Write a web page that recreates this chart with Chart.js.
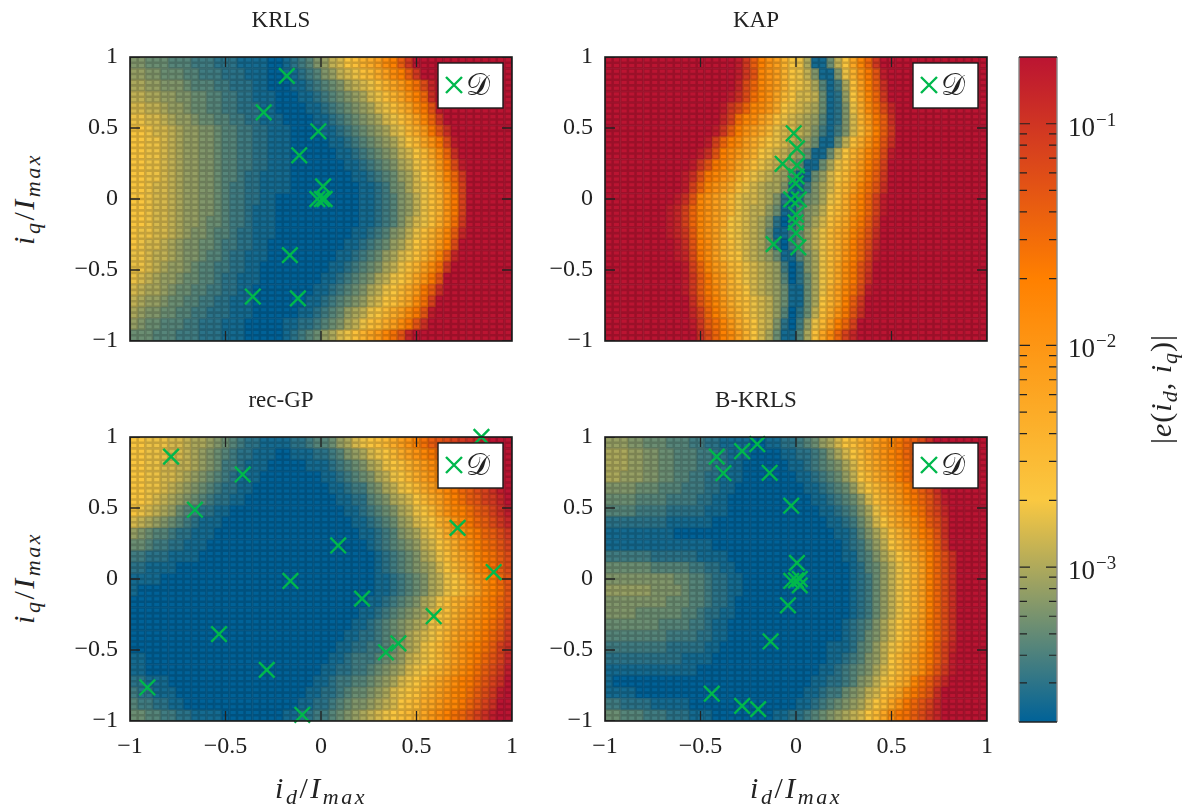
<!DOCTYPE html>
<html>
<head>
<meta charset="utf-8">
<script src="https://cdn.jsdelivr.net/npm/chart.js@4"></script>
<style>
html,body{margin:0;padding:0;background:#fff;width:1190px;height:805px;overflow:hidden}
canvas{position:absolute}
.lab{position:absolute;font:italic 30px "Liberation Serif";color:#222;white-space:nowrap;letter-spacing:2.5px;transform:translate(-50%,-50%)}
.rot{transform:translate(-50%,-50%) rotate(-90deg)}
.lab sub{font-size:22px;line-height:0;vertical-align:-6px}
.lab span{font-style:normal}
.lab.tight{letter-spacing:1px}
</style>
</head>
<body>
<script>
// error level per cell, base 36 digit, 0 = 2e-4 ... z = 2e-1 (log), rows top to bottom
const krlsRows = [
"6655544433 3222111100 1234679acd fgilnrvzzz zzzzzzzzzz",
"7766555443 3322211100 11234679ab degilnrvzz zzzzzzzzzz",
"8877666544 4332221100 0112345689 abdfhjmptx zzzzzzzzzz",
"9988776655 4433221110 0011234567 8abdfhknqw zzzzzzzzzz",
"aa99877655 4433222110 0001123456 78abdfhlos yzzzzzzzzz",
"bbaa987765 5443322111 0000112345 678abdfimq vzzzzzzzzz",
"ccbaa98776 6544332211 1000011234 5678abegjo swzzzzzzzz",
"ccbba98776 6544332211 1000001123 45678acehk otyzzzzzzz",
"ccbba98776 6544332211 1000000112 345679aceh lqwzzzzzzz",
"ccbba98776 6544332211 1000000011 2345689bdf jotyzzzzzz",
"ccbba98776 6544322111 1000000001 1234578ace hmqvzzzzzz",
"ccbaa98776 6543322111 1000000000 1123568abd gkpuzzzzzz",
"ccbaa98776 6543322110 0000000000 11234679bd fkouzzzzzz",
"ccbaa98776 6543321110 0000000000 11234679bd fkouzzzzzz",
"ccbaa98776 5543321110 0000000000 1123468abd gkpvzzzzzz",
"cbbaa98766 5443221110 0000000001 1234679bdf imrxzzzzzz",
"cbaa987665 5433221100 0000000011 234578aceg jntzzzzzzz",
"bba9987665 4432211100 0000000112 34578abdfi mrxzzzzzzz",
"bba9877654 4332211000 0000001123 45689bdfil pvzzzzzzzz",
"ba98776554 4322111000 0000011234 5689bcehko szzzzzzzzz",
"a988765544 3322110000 0000112345 689bcegjor wzzzzzzzzz",
"9877655443 3221110000 0001123456 79acdfhlpu zzzzzzzzzz",
"8766554433 2221110000 0011234578 9bcegilosy zzzzzzzzzz",
"7655444332 2211100000 1122345689 bdegiloswz zzzzzzzzzz",
"5554443332 2211100000 1234578abd fhjmpsxzzz zzzzzzzzzz"
];
const kapRows = [
"zzzzzzzzzz zzzzzzzyvr nkifcb8115 9chmqvzzzz zzzzzzzzzz",
"zzzzzzzzzz zzzzzzzyvs mkifcb9611 6bfkosyzzz zzzzzzzzzz",
"zzzzzzzzzz zzzzzzzxtq mkifcba841 38dinrwzzz zzzzzzzzzz",
"zzzzzzzzzz zzzzzzywtp mkhecaa951 27chmqvzzz zzzzzzzzzz",
"zzzzzzzzzz zzzzzyvtqm ljgcba9851 26bglptxzz zzzzzzzzzz",
"zzzzzzzzzz zzzzzxupml igdba98741 26afjorwzz zzzzzzzzzz",
"zzzzzzzzzz zzzzyvrnki gebaa98631 36aeinrvzz zzzzzzzzzz",
"zzzzzzzzzz zzzyuqnlig ecba987511 59dgkoswzz zzzzzzzzzz",
"zzzzzzzzzz zzywsnljhf cba9875115 9cfimptyzz zzzzzzzzzz",
"zzzzzzzzzz zyvsomkhfd ba98751158 bdgjnquzzz zzzzzzzzzz",
"zzzzzzzzzz ywsomkifdb a98741157a cehkorvzzz zzzzzzzzzz",
"zzzzzzzzzz yuqmkigdba 988611368a dfimpswzzz zzzzzzzzzz",
"zzzzzzzzzy wsmkigebaa 986202568b dgknquyzzz zzzzzzzzzz",
"zzzzzzzzyx uqmkigeba9 975114679c egknquyzzz zzzzzzzzzz",
"zzzzzzzzyx uqmkigcba9 86202568ad fhlorvzzzz zzzzzzzzzz",
"zzzzzzzzyx vrmkifcba9 85113579be gimpswzzzz zzzzzzzzzz",
"zzzzzzzzzy wsnlifdba9 86203579be gjnqtxzzzz zzzzzzzzzz",
"zzzzzzzzzy xtolifdca9 87511468be gknquyzzzz zzzzzzzzzz",
"zzzzzzzzzz yuqmjhedba 98730268be hlosvzzzzz zzzzzzzzzz",
"zzzzzzzzzz yvrokifdba 98740258be hloswzzzzz zzzzzzzzzz",
"zzzzzzzzzz yvrolifeca 98751158bf imptyzzzzz zzzzzzzzzz",
"zzzzzzzzzz zwspmjgedb a9751158cf inrvzzzzzz zzzzzzzzzz",
"zzzzzzzzzz zxuqnkhfdb a9740259dg koswzzzzzz zzzzzzzzzz",
"zzzzzzzzzz zyvrpmjgec a962037bei nquzzzzzzz zzzzzzzzzz",
"zzzzzzzzzz zzwtqnlifc a851148dhl quxzzzzzzz zzzzzzzzzz"
];
const recgpRows = [
"ccbbbaa988 7654322111 122344578a bcdegiknpr stuvwxyzzz",
"ccbbbaa987 6543221110 0111223467 8abcegikmo qrstuvxyzz",
"ccbbaa9987 6533211100 0001112345 689bcdfhjl noqrtuwxyz",
"ccbbaa9876 5432111000 0000011234 5689bcegik moprsuvxyz",
"ccbba98765 4322110000 0000001123 35689bcegi kmoqrtuwyz",
"ccba987654 3221100000 0000000112 245689aceg ilnprsuvxz",
"cba9875432 2110000000 0000000011 2345689bce hkmnprsuwy",
"a987654321 1100000000 0000000001 1234578abc fhkmoqrtvx",
"7654432211 1000000000 0000000000 11234678ab dgikmoqrtv",
"5543322111 0000000000 0000000000 012345679a cegjlnpqsu",
"3322211110 0000000000 0000000000 0012345689 bdfhjmoprt",
"2211110000 0000000000 0000000000 0012345678 acegilnprt",
"1111000000 0000000000 0000000000 0011234568 9bcehjlnqs",
"1000000000 0000000000 0000000000 0011234568 9bcegilnps",
"0000000000 0000000000 0000000000 0112345689 bdfgikmoqs",
"0000000000 0000000000 0000000000 112345678a cdfhjkmoqt",
"0000000000 0000000000 0000000001 123456789b cegiklnpru",
"0000000000 0000000000 0000000011 22345689ab dfhjkmoqsv",
"0000000000 0000000000 0000000112 23345789bc egikmnpruw",
"1100000000 0000000000 0000001123 3345679abc egikmoqsux",
"1100000000 0000000000 0000011223 345678abce fhjlnprtvy",
"2211100000 0000000000 0000112334 45678abcef hjlnoqsuwz",
"3221110000 0000000000 0001122345 5678abcdfg ikmnprtvyz",
"4332211000 0000000000 0011223456 6789acdegh jlmoqsuwzz",
"5544332211 1100000000 1122334567 89abcdefhj lnpqsuwyzz"
];
const bkrlsRows = [
"7776655544 4332211110 0112234578 acdfgikmoq rtwzzzzzzz",
"8887766554 4433221110 0001122346 8acegikmoq rtwzzzzzzz",
"8887766554 4433221100 0000112345 68adfhjlnp rtwyzzzzzz",
"8877766554 4332211100 0000011234 579cegiknp rtwyzzzzzz",
"6666555444 3332211000 0000001123 457acegikn prtwzzzzzz",
"5555444433 3322110000 0000000112 3457adfhjm oqsvyzzzzz",
"4444333322 2221110000 0000000011 23468begik npsuxzzzzz",
"2222222211 1111000000 0000000001 12357acfhj lortwzzzzz",
"1111111110 0000000000 0000000000 112468adfh knpswzzzzz",
"1111111111 1111000000 0000000000 0123579ceg ilorvzzzzz",
"3333332222 2211110000 0000000000 0113468ace gjnqtwzzzz",
"5555554444 4332211000 0000000000 00124579bd finqtwzzzz",
"6666666665 5443221100 0000000000 00123579bd finqtwzzzz",
"7777776666 5443221100 0000000000 00123579bd finqtwzzzz",
"6666666655 5443221000 0000000000 00123579bd finqtwzzzz",
"6666555555 4432211000 0000000000 00123579bd finqtwzzzz",
"5555555444 4332110000 0000000000 0123468ace gjoqtwzzzz",
"4444444433 3322110000 0000000000 0123568ace gjnqtwzzzz",
"3333333322 2221100000 0000000001 1124579bdf hkoruxzzzz",
"2222222222 1111000000 0000000001 1234679ceg iloruyzzzz",
"1111111111 1100000000 0000000011 234568aceg ilpsvyzzzz",
"1000000000 0000000000 0000000112 234679bdfh mpruxzzzzz",
"1111000000 0000000000 0000001123 35679adfhl oqswzzzzzz",
"3322221111 1000000000 0000011234 5678acehko qsuxzzzzzz",
"5544433322 2111000000 0011223456 789acehlop rtvxzzzzzz"
];

const krlsPts = [[-.179,.867],[-.30,.61],[-.014,.477],[-.114,.308],[.011,.089],[-.019,0],[.019,0],[.005,0],[-.163,-.395],[-.357,-.687],[-.121,-.70]];
const kapPts = [[-.012,.463],[.005,.357],[-.07,.248],[.005,.236],[.003,.16],[-.002,.11],[-.025,-.003],[.015,-.003],[0,-.11],[-.002,-.165],[0,-.24],[.012,-.34],[-.117,-.318]];
const recgpPts = [[-.785,.862],[-.41,.736],[-.66,.488],[.09,.236],[-.16,-.014],[.215,-.138],[.84,1],[.715,.36],[.904,.049],[.59,-.262],[.405,-.453],[.34,-.516],[-.534,-.388],[-.284,-.64],[-.909,-.764],[-.098,-.956]];
const bkrlsPts = [[-.415,.862],[-.38,.745],[-.282,.90],[-.203,.949],[-.138,.748],[-.025,.516],[.005,.114],[-.025,-.014],[0,-.01],[.02,0],[.02,-.045],[-.042,-.185],[-.133,-.44],[-.441,-.808],[-.282,-.893],[-.198,-.916]];

const axisTicks = [-1,-0.5,0,0.5,1];
const barStops = [2e-4,2e-3,2e-2,2e-1];
const barMajor = [1e-3,1e-2,1e-1];
const barExp = ['−3','−2','−1'];
const barMinor = [3e-4,4e-4,5e-4,6e-4,7e-4,8e-4,9e-4,2e-3,3e-3,4e-3,5e-3,6e-3,7e-3,8e-3,9e-3,2e-2,3e-2,4e-2,5e-2,6e-2,7e-2,8e-2,9e-2];

const stopColors = [[0,98,152],[250,200,65],[255,128,0],[187,20,50]];
const green = '#00b84c';
const serif = '"Liberation Serif"';

function levelColor(l){
  let t = l/35*3, s = Math.min(2,Math.floor(t)), f = t-s;
  let a = stopColors[s], b = stopColors[s+1];
  return 'rgb('+[0,1,2].map(k => Math.round(a[k]+(b[k]-a[k])*f)).join(',')+')';
}
function parseRows(rows){
  return rows.map(r => r.replace(/ /g,'').split('').map(c => parseInt(c,36)));
}

const heatPlugin = {
  id:'heat',
  beforeDatasetsDraw(chart,args,opts){
    const {ctx,scales:{x,y},chartArea:a} = chart;
    const grid = parseRows(opts.rows);
    const ny = grid.length;
    ctx.save();
    ctx.beginPath(); ctx.rect(a.left,a.top,a.width,a.height); ctx.clip();
    grid.forEach((row,j) => {
      const nx = row.length;
      const y0 = y.getPixelForValue(1-2*j/ny), y1 = y.getPixelForValue(1-2*(j+1)/ny);
      row.forEach((l,i) => {
        const x0 = x.getPixelForValue(-1+2*i/nx), x1 = x.getPixelForValue(-1+2*(i+1)/nx);
        ctx.fillStyle = levelColor(l);
        ctx.fillRect(x0,y0,x1-x0+.5,y1-y0+.5);
      });
    });
    // mesh lines of the surface
    ctx.strokeStyle = 'rgba(0,0,0,.17)';
    ctx.lineWidth = 2.6;
    ctx.beginPath();
    for(let i=0;i<=50;i++){
      let p = x.getPixelForValue(-1+i/25);
      ctx.moveTo(p,a.top); ctx.lineTo(p,a.bottom);
      p = y.getPixelForValue(-1+i/25);
      ctx.moveTo(a.left,p); ctx.lineTo(a.right,p);
    }
    ctx.stroke();
    // inward ticks on all sides
    ctx.strokeStyle = '#222';
    ctx.lineWidth = 1.3;
    ctx.beginPath();
    axisTicks.forEach(v => {
      let p = x.getPixelForValue(v);
      ctx.moveTo(p,a.top); ctx.lineTo(p,a.top+10);
      ctx.moveTo(p,a.bottom); ctx.lineTo(p,a.bottom-10);
      p = y.getPixelForValue(v);
      ctx.moveTo(a.left,p); ctx.lineTo(a.left+10,p);
      ctx.moveTo(a.right,p); ctx.lineTo(a.right-10,p);
    });
    ctx.stroke();
    ctx.restore();
  },
  afterDatasetsDraw(chart){
    const {ctx,chartArea:a} = chart;
    ctx.save();
    ctx.strokeStyle = '#1a1a1a';
    ctx.lineWidth = 1.6;
    ctx.strokeRect(a.left,a.top,a.width,a.height);
    // legend box
    const bx = a.right-74, by = a.top+6;
    ctx.fillStyle = '#fff';
    ctx.fillRect(bx,by,65,45);
    ctx.lineWidth = 1.4;
    ctx.strokeRect(bx,by,65,45);
    ctx.strokeStyle = green;
    ctx.lineWidth = 2.4;
    ctx.beginPath();
    ctx.moveTo(bx+8,by+14); ctx.lineTo(bx+24,by+30);
    ctx.moveTo(bx+24,by+14); ctx.lineTo(bx+8,by+30);
    ctx.stroke();
    ctx.fillStyle = '#222';
    ctx.font = '30px '+serif;
    ctx.textBaseline = 'alphabetic';
    ctx.fillText('𝒟',bx+28,by+32);
    ctx.restore();
  }
};

function panel(title,rows,pts,plotLeft,plotTop,showX){
  const c = document.createElement('canvas');
  c.width = 542; c.height = 394;
  c.style.left = (plotLeft-80)+'px';
  c.style.top = (plotTop-50)+'px';
  document.body.appendChild(c);
  new Chart(c,{
    type:'scatter',
    data:{datasets:[{
      data:pts.map(p => ({x:p[0],y:p[1]})),
      pointStyle:'crossRot',pointRadius:11,pointHoverRadius:11,
      borderColor:green,backgroundColor:green,borderWidth:2.4,clip:false
    }]},
    plugins:[heatPlugin],
    options:{
      responsive:false,animation:false,
      layout:{padding:{right:80}},
      events:[],
      plugins:{
        legend:{display:false},tooltip:{enabled:false},
        title:{display:true,text:title,color:'#222',font:{family:serif,size:23,weight:'normal'},padding:{top:0,bottom:22.4}},
        heat:{rows:rows}
      },
      scales:{
        x:{type:'linear',min:-1,max:1,
          afterFit(s){s.height=60},
          afterBuildTicks(s){s.ticks=axisTicks.map(v=>({value:v}))},
          grid:{display:false,drawTicks:false},border:{display:false},
          ticks:{display:showX,color:'#222',maxRotation:0,autoSkip:false,padding:11,font:{family:serif,size:24},
            callback:v=>String(v).replace('-','−')}},
        y:{type:'linear',min:-1,max:1,
          afterFit(s){s.width=80},
          afterBuildTicks(s){s.ticks=axisTicks.map(v=>({value:v}))},
          grid:{display:false,drawTicks:false},border:{display:false},
          ticks:{color:'#222',autoSkip:false,padding:12,font:{family:serif,size:24},
            callback:v=>String(v).replace('-','−')}}
      }
    }
  });
}

panel('KRLS',krlsRows,krlsPts,130,57,false);
panel('KAP',kapRows,kapPts,605,57,false);
panel('rec-GP',recgpRows,recgpPts,130,437,true);
panel('B-KRLS',bkrlsRows,bkrlsPts,605,437,true);

const barPlugin = {
  id:'bar',
  beforeDatasetsDraw(chart){
    const {ctx,scales:{y},chartArea:a} = chart;
    const g = ctx.createLinearGradient(0,y.getPixelForValue(barStops[0]),0,y.getPixelForValue(barStops[3]));
    stopColors.forEach((c,i) => g.addColorStop(i/3,'rgb('+c.join(',')+')'));
    ctx.save();
    ctx.fillStyle = g;
    ctx.fillRect(a.left,a.top,a.width,a.height);
    ctx.strokeStyle = '#222';
    ctx.lineWidth = 1.2;
    ctx.beginPath();
    barMinor.forEach(v => {
      const p = y.getPixelForValue(v);
      ctx.moveTo(a.left,p); ctx.lineTo(a.left+8,p);
      ctx.moveTo(a.right,p); ctx.lineTo(a.right-8,p);
    });
    barMajor.forEach(v => {
      const p = y.getPixelForValue(v);
      ctx.moveTo(a.left,p); ctx.lineTo(a.left+11,p);
      ctx.moveTo(a.right,p); ctx.lineTo(a.right-11,p);
    });
    ctx.stroke();
    ctx.strokeStyle = '#888';
    ctx.lineWidth = 1.4;
    ctx.beginPath();
    ctx.moveTo(a.left,a.top); ctx.lineTo(a.left,a.bottom);
    ctx.moveTo(a.right,a.top); ctx.lineTo(a.right,a.bottom);
    ctx.stroke();
    ctx.strokeStyle = '#222';
    ctx.beginPath();
    ctx.moveTo(a.left,a.top); ctx.lineTo(a.right,a.top);
    ctx.moveTo(a.left,a.bottom); ctx.lineTo(a.right,a.bottom);
    ctx.stroke();
    ctx.fillStyle = '#222';
    ctx.textBaseline = 'alphabetic';
    barMajor.forEach((v,i) => {
      const p = y.getPixelForValue(v);
      ctx.font = '27px '+serif;
      ctx.fillText('10',a.right+11,p+12);
      ctx.font = '19px '+serif;
      ctx.fillText(barExp[i],a.right+39,p+2);
    });
    ctx.restore();
  }
};
const bar = document.createElement('canvas');
bar.width = 181; bar.height = 685;
bar.style.left = '1009px'; bar.style.top = '47px';
document.body.appendChild(bar);
new Chart(bar,{
  type:'scatter',
  data:{datasets:[{data:[]}]},
  plugins:[barPlugin],
  options:{
    responsive:false,animation:false,events:[],
    layout:{padding:{left:10,right:133,top:10,bottom:10}},
    plugins:{legend:{display:false},tooltip:{enabled:false}},
    scales:{
      x:{display:false,min:0,max:1},
      y:{display:false,type:'logarithmic',min:barStops[0],max:barStops[3]}
    }
  }
});

function label(html,x,y,rot,tight){
  const d = document.createElement('div');
  d.className = 'lab'+(rot?' rot':'')+(tight?' tight':'');
  d.style.left = x+'px'; d.style.top = y+'px';
  d.innerHTML = html;
  document.body.appendChild(d);
}
const iq = 'i<sub>q</sub><span>/</span>I<sub>max</sub>';
const id = 'i<sub>d</sub><span>/</span>I<sub>max</sub>';
label(iq,24,199,true);
label(iq,24,578,true);
label(id,321,788,false);
label(id,796,788,false);
label('<span>|</span>e<span>(</span>i<sub>d</sub><span>,</span> i<sub>q</sub><span>)|</span>',1161,389,true,true);
</script>
</body>
</html>
